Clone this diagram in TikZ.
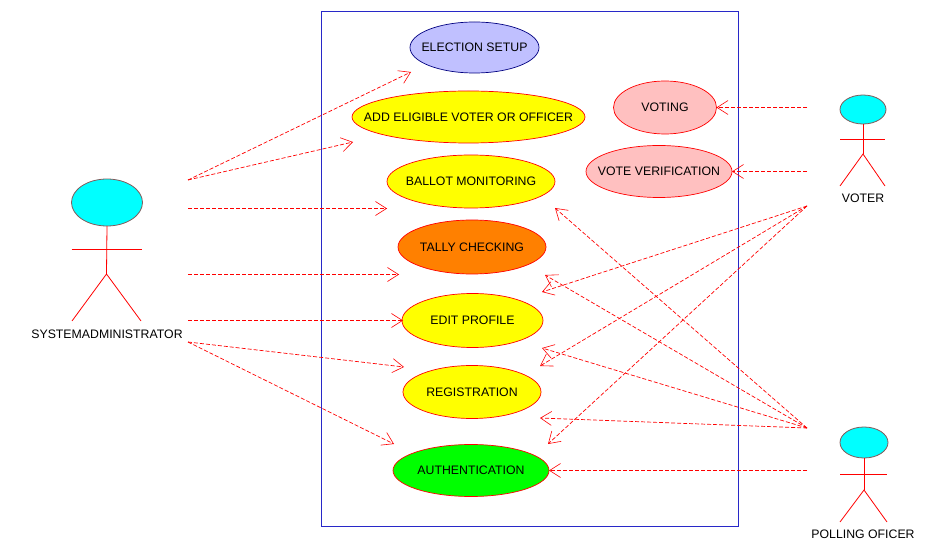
\documentclass[tikz,border=0pt]{standalone}
\usepackage{fontspec}
\setmainfont{Liberation Sans}
\usepackage{xcolor}
\usetikzlibrary{shapes.geometric, arrows.meta, positioning}
\definecolor{boxblue}{RGB}{40,40,200}
\definecolor{headedge}{RGB}{130,90,90}
\definecolor{headcyan}{RGB}{0,255,255}
\definecolor{caseyellow}{RGB}{255,255,0}
\definecolor{casegreen}{RGB}{0,255,0}
\definecolor{caseorange}{RGB}{255,128,0}
\definecolor{casepink}{RGB}{255,192,192}
\definecolor{caseblue}{RGB}{192,192,255}
\definecolor{deepred}{RGB}{255,0,0}
\tikzset{usecase/.style={ellipse,draw=deepred,line width=0.7pt,inner ysep=0pt,inner xsep=-25pt,outer sep=0pt,font=\fontsize{12.3}{14}\selectfont,text=black}}
\tikzset{head/.style={ellipse,draw=headedge,fill=headcyan,line width=0.8pt,inner sep=0pt,outer sep=0pt}}
\tikzset{limb/.style={deepred,line width=0.8pt}}
\tikzset{dep/.style={deepred,line width=0.7pt,dash pattern=on 4pt off 2pt,-{Straight Barb[length=11pt,width=14pt,line width=0.6pt]}}}
\tikzset{actorname/.style={inner sep=0pt,font=\fontsize{12.3}{14}\selectfont}}

\begin{document}
\begin{tikzpicture}[x=1pt,y=-1pt]
			\useasboundingbox (0,0) rectangle (943,553);
			\draw[boxblue,line width=0.9pt] (321,11) rectangle (738,526);
			% use cases
			\node[usecase,draw=blue!50!black,fill=caseblue,minimum width=129pt,minimum height=51pt] (setup) at (474.5,47.5) {ELECTION SETUP};
			\node[usecase,fill=caseyellow,minimum width=233pt,minimum height=52pt] (eligible) at (468.5,117) {ADD ELIGIBLE VOTER OR OFFICER};
			\node[usecase,fill=caseyellow,minimum width=168pt,minimum height=53pt] (ballot) at (471,181.5) {BALLOT MONITORING};
			\node[usecase,fill=caseorange,minimum width=148pt,minimum height=54pt] (tally) at (472,247) {TALLY CHECKING};
			\node[usecase,fill=caseyellow,minimum width=141pt,minimum height=54pt] (profile) at (472.5,320.5) {EDIT PROFILE};
			\node[usecase,fill=caseyellow,minimum width=138pt,minimum height=53pt] (registration) at (472,392) {REGISTRATION};
			\node[usecase,fill=casegreen,minimum width=156pt,minimum height=52pt] (authentication) at (471,470.5) {AUTHENTICATION};
			\node[usecase,fill=casepink,minimum width=103pt,minimum height=53pt] (voting) at (665,107.5) {VOTING};
			\node[usecase,fill=casepink,minimum width=146pt,minimum height=52pt] (verification) at (659,171.5) {VOTE VERIFICATION};
			% system administrator
			\node[head,minimum width=71pt,minimum height=47pt] (adminhead) at (107,202.5) {};
			\coordinate (adminneck) at (106.5,249.5);
			\coordinate (adminhip) at (106.5,274);
			\draw[limb] (adminhead.south) -- (adminhip);
			\draw[limb] (71.5,249.5) -- (adminneck) -- (142,249.5);
			\draw[limb] (72,321) -- (adminhip) -- (141,321);
			\node[actorname] (admin) at (107,334) {SYSTEMADMINISTRATOR};
			% voter
			\node[head,minimum width=46pt,minimum height=29pt] (voterhead) at (863,109.5) {};
			\coordinate (voterneck) at (863,139.5);
			\coordinate (voterhip) at (863,154);
			\draw[limb] (voterhead.south) -- (voterhip);
			\draw[limb] (840,139.5) -- (voterneck) -- (885,139.5);
			\draw[limb] (840,186) -- (voterhip) -- (885,186);
			\node[actorname] (voter) at (863,198) {VOTER};
			% polling officer
			\node[head,minimum width=48pt,minimum height=31pt] (pollinghead) at (864,442.5) {};
			\coordinate (pollingneck) at (864,474.5);
			\coordinate (pollinghip) at (864,490);
			\draw[limb] (pollinghead.south) -- (pollinghip);
			\draw[limb] (840,474.5) -- (pollingneck) -- (887,474.5);
			\draw[limb] (840,522) -- (pollinghip) -- (887,522);
			\node[actorname] (polling) at (863,534) {POLLING OFICER};
			% free ends of the administrator arrows
			\coordinate (adminA) at (188,180);
			\coordinate (adminB) at (188,208.5);
			\coordinate (adminC) at (188,274.5);
			\coordinate (adminD) at (188,320.5);
			\coordinate (adminE) at (188,342);
			\coordinate (toSetup) at (411,72);
			\coordinate (toEligible) at (353,142);
			\coordinate (toBallot) at (387,208.5);
			\coordinate (toTally) at (399,274.5);
			\coordinate (toProfile) at (403,320.5);
			\coordinate (toRegistration) at (404,367);
			\coordinate (toAuthentication) at (394,444);
			\draw[dep] (adminA) -- (toSetup);
			\draw[dep] (adminA) -- (toEligible);
			\draw[dep] (adminB) -- (toBallot);
			\draw[dep] (adminC) -- (toTally);
			\draw[dep] (adminD) -- (toProfile);
			\draw[dep] (adminE) -- (toRegistration);
			\draw[dep] (adminE) -- (toAuthentication);
			% voter arrows
			\coordinate (voterA) at (807,107.5);
			\coordinate (voterB) at (807,171.5);
			\coordinate (voterC) at (807,206);
			\coordinate (voterProfile) at (542,292);
			\coordinate (voterRegistration) at (540,366);
			\coordinate (voterAuthentication) at (548,444);
			\draw[dep] (voterA) -- (voting.east);
			\draw[dep] (voterB) -- (verification.east);
			\draw[dep] (voterC) -- (voterProfile);
			\draw[dep] (voterC) -- (voterRegistration);
			\draw[dep] (voterC) -- (voterAuthentication);
			% polling officer arrows
			\coordinate (pollingA) at (807,428);
			\coordinate (pollingB) at (807,470.5);
			\coordinate (pollingBallot) at (555,208);
			\coordinate (pollingTally) at (545,275);
			\coordinate (pollingProfile) at (542,348);
			\coordinate (pollingRegistration) at (540,418);
			\draw[dep] (pollingA) -- (pollingBallot);
			\draw[dep] (pollingA) -- (pollingTally);
			\draw[dep] (pollingA) -- (pollingProfile);
			\draw[dep] (pollingA) -- (pollingRegistration);
			\draw[dep] (pollingB) -- (authentication.east);
		\end{tikzpicture}
\end{document}
